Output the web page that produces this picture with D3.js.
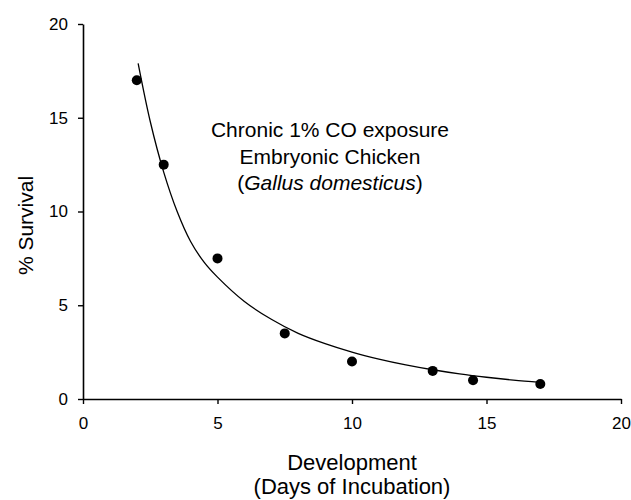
<!DOCTYPE html>
<html>
<head>
<meta charset="utf-8">
<script src="https://cdn.jsdelivr.net/npm/d3@7"></script>
<style>
  html, body { margin: 0; padding: 0; background: #fff; }
  svg { display: block; font-family: "Liberation Sans", Arial, sans-serif; }
</style>
</head>
<body>
<svg id="chart" width="631" height="500"></svg>
<script>
// Observed data points (day of incubation, % survival)
const days = [2, 3, 5, 7.5, 10, 13, 14.5, 17];
const survival = [17, 12.5, 7.5, 3.5, 2, 1.5, 1, 0.8];

// Fitted curve
const fitDays = [2.05, 2.5, 3.0, 3.5, 4.0, 4.5, 5.0, 6.0, 7.0, 8.0, 9.0, 10.0, 11.0, 12.0, 13.0, 14.0, 15.0, 16.0, 17.0];
const fitSurvival = [17.9, 14.8, 12.1, 10.0, 8.4, 7.3, 6.5, 5.2, 4.25, 3.5, 2.95, 2.5, 2.13, 1.82, 1.56, 1.34, 1.16, 1.01, 0.89];

const xTicks = [0, 5, 10, 15, 20];
const yTicks = [0, 5, 10, 15, 20];

const annotationLines = ["Chronic 1% CO exposure", "Embryonic Chicken"];
const speciesName = "Gallus domesticus";
const xTitle = ["Development", "(Days of Incubation)"];
const yTitle = "% Survival";

const svg = d3.select("#chart");

const x = d3.scaleLinear().domain([0, 20]).range([83, 621]);
const y = d3.scaleLinear().domain([0, 20]).range([399, 24]);

// Axes
const xAxis = d3.axisBottom(x).tickValues(xTicks).tickSize(5).tickSizeOuter(0).tickPadding(13);
const yAxis = d3.axisLeft(y).tickValues(yTicks).tickSize(5).tickSizeOuter(0).tickPadding(10);

const gx = svg.append("g").attr("transform", `translate(0,${y(0)})`).call(xAxis);
const gy = svg.append("g").attr("transform", `translate(${x(0)},0)`).call(yAxis);

[gx, gy].forEach(g => {
  g.select(".domain").attr("stroke", "#000").attr("stroke-width", 1.6);
  g.selectAll(".tick line").attr("stroke", "#000").attr("stroke-width", 1.4);
  g.selectAll(".tick text").attr("fill", "#000")
    .style("font-size", "17px")
    .style("font-family", "'Liberation Sans', Arial, sans-serif");
});

// Fitted curve
const fit = fitDays.map((d, i) => [d, fitSurvival[i]]);
svg.append("path")
  .datum(fit)
  .attr("fill", "none")
  .attr("stroke", "#000")
  .attr("stroke-width", 1.3)
  .attr("d", d3.line().x(d => x(d[0])).y(d => y(d[1])).curve(d3.curveCatmullRom));

// Data points
svg.append("g").selectAll("circle")
  .data(days.map((d, i) => [d, survival[i]]))
  .join("circle")
  .attr("cx", d => x(d[0]))
  .attr("cy", d => y(d[1]))
  .attr("r", 5)
  .attr("fill", "#000");

// Annotation
const ann = svg.append("text")
  .attr("text-anchor", "middle")
  .style("font-size", "21px")
  .attr("fill", "#000");
ann.append("tspan").attr("x", 330).attr("y", 137).text(annotationLines[0]);
ann.append("tspan").attr("x", 330).attr("y", 163.5).text(annotationLines[1]);
const l3 = ann.append("tspan").attr("x", 330).attr("y", 190);
l3.append("tspan").text("(");
l3.append("tspan").style("font-style", "italic").text(speciesName);
l3.append("tspan").text(")");

// Axis titles
svg.append("text")
  .attr("text-anchor", "middle")
  .attr("x", (x(0) + x(20)) / 2)
  .attr("y", 470)
  .style("font-size", "22px")
  .attr("fill", "#000")
  .text(xTitle[0]);
svg.append("text")
  .attr("text-anchor", "middle")
  .attr("x", (x(0) + x(20)) / 2)
  .attr("y", 494)
  .style("font-size", "22px")
  .attr("fill", "#000")
  .text(xTitle[1]);

svg.append("text")
  .attr("text-anchor", "middle")
  .attr("transform", `translate(33,${y(10) + 14}) rotate(-90)`)
  .style("font-size", "21px")
  .attr("fill", "#000")
  .text(yTitle);
</script>
</body>
</html>
